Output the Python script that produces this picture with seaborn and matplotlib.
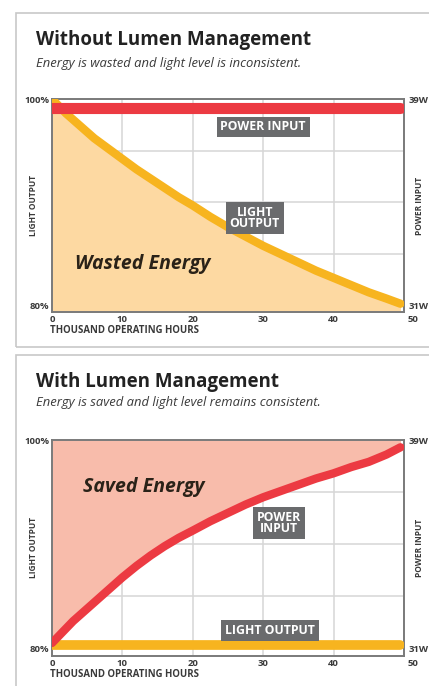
import numpy as np
import pandas as pd
import seaborn as sns
import matplotlib.pyplot as plt
from matplotlib.patches import Rectangle

# data (thousand hours vs level in % of max)
hours = [0, 1, 2, 3, 4, 5, 6, 7, 8, 9, 10, 12, 14, 16, 18, 20, 22.5, 25, 27.5, 30,
         32.5, 35, 37.5, 40, 42.5, 45, 47.5, 49.5]
light_without = [100, 99.3, 98.6, 98.0, 97.4, 96.8, 96.2, 95.7, 95.2, 94.7, 94.2, 93.2, 92.3,
                 91.4, 90.5, 89.7, 88.6, 87.6, 86.7, 85.8, 85.0, 84.2, 83.4, 82.7, 82.0, 81.3,
                 80.7, 80.2]
power_without = [99.1] * len(hours)
power_with = [80.5, 81.2, 81.9, 82.6, 83.2, 83.8, 84.4, 85.0, 85.6, 86.2, 86.8, 87.9, 88.9,
              89.8, 90.6, 91.3, 92.2, 93.0, 93.8, 94.5, 95.1, 95.7, 96.3, 96.8, 97.4, 97.9,
              98.6, 99.3]
light_with = [80.3] * len(hours)

x_ticks = [0, 10, 20, 30, 40]
y_grid = [80, 85, 90, 95, 100]

RED = "#ec3a42"
ORANGE = "#f7b41f"
ORANGE_FILL = "#fdd9a2"
PINK_FILL = "#f8bcab"
BOX_GRAY = "#6a6b6d"
TXT = "#3a3a3a"

sns.set_style("white")
plt.rcParams["font.family"] = ["Open Sans", "DejaVu Sans"]

fig = plt.figure(figsize=(4.29, 6.86), dpi=100)

# panel frames
fig.patches.append(Rectangle((16 / 429, 1 - 347 / 686), 0.99, 334 / 686, transform=fig.transFigure,
                             fill=False, edgecolor="#c8c8c8", lw=1.2))
fig.patches.append(Rectangle((16 / 429, -0.05), 0.99, 1 - 355 / 686 + 0.05, transform=fig.transFigure,
                             fill=False, edgecolor="#c8c8c8", lw=1.2))

ax1 = fig.add_axes([52 / 429, 1 - 312 / 686, 352 / 429, 213 / 686])
ax2 = fig.add_axes([52 / 429, 1 - 656 / 686, 352 / 429, 216 / 686])

df1 = pd.DataFrame({"hours": hours, "light": light_without, "power": power_without})
df2 = pd.DataFrame({"hours": hours, "light": light_with, "power": power_with})


def style_axes(ax, ybottom):
    ax.set_xlim(0, 50)
    ax.set_ylim(ybottom, 100)
    ax.set_xticks(x_ticks + [50])
    ax.set_xticklabels([str(t) for t in x_ticks] + [""])
    ax.set_yticks(y_grid)
    ax.set_yticklabels(["80%", "", "", "", "100%"])
    ax.grid(True, color="#d6d6d6", lw=1.1)
    ax.set_axisbelow(True)
    for s in ax.spines.values():
        s.set_color("#7a7a7a")
        s.set_linewidth(1.4)
    ax.tick_params(length=0, labelsize=6.8, colors=TXT, pad=2)
    for lab in ax.get_xticklabels() + ax.get_yticklabels():
        lab.set_fontweight("bold")
    ax.set_xlabel("")
    ax.set_ylabel("")
    ax.text(-0.005, -0.085, "THOUSAND OPERATING HOURS", transform=ax.transAxes,
            fontsize=6.9, fontweight="bold", color=TXT, ha="left", va="center")
    ax.text(-0.04, 0.5, "LIGHT OUTPUT", transform=ax.transAxes, rotation=90,
            fontsize=6, fontweight="bold", color=TXT, ha="right", va="center")
    ax.text(1.03, 0.5, "POWER INPUT", transform=ax.transAxes, rotation=90,
            fontsize=6, fontweight="bold", color=TXT, ha="left", va="center")
    tw = ax.twinx()
    tw.set_ylim(ax.get_ylim())
    tw.set_yticks([80, 100])
    tw.set_yticklabels(["31W", "39W"])
    tw.tick_params(length=0, labelsize=6.8, colors=TXT, pad=3)
    for lab in tw.get_yticklabels():
        lab.set_fontweight("bold")
    for s in tw.spines.values():
        s.set_visible(False)
    ax.text(1.01, -0.012, "50", transform=ax.transAxes, fontsize=6.8,
            fontweight="bold", color=TXT, ha="left", va="top")


def gray_box(ax, x, y, text):
    ax.text(x, y, text, ha="center", va="center", color="white", fontsize=8.8,
            fontweight="bold", linespacing=0.8, zorder=6,
            bbox=dict(boxstyle="square,pad=0.32", fc=BOX_GRAY, ec="none"))


# top panel: without lumen management
ax1.fill_between(df1["hours"], 79.4, df1["light"], color=ORANGE_FILL, lw=0, zorder=1)
sns.lineplot(data=df1, x="hours", y="light", ax=ax1, color=ORANGE, lw=6, zorder=3)
sns.lineplot(data=df1, x="hours", y="power", ax=ax1, color=RED, lw=8, zorder=4)
style_axes(ax1, 79.4)
gray_box(ax1, 30, 97.3, "POWER INPUT")
gray_box(ax1, 28.8, 88.5, "LIGHT\nOUTPUT")
ax1.text(3.2, 84.0, "Wasted Energy", fontsize=14, fontweight="bold", style="italic",
         color="#2a2218", ha="left", va="center", zorder=5)

# bottom panel: with lumen management
ax2.fill_between(df2["hours"], df2["power"], 100, color=PINK_FILL, lw=0, zorder=1)
sns.lineplot(data=df2, x="hours", y="light", ax=ax2, color=ORANGE, lw=7, zorder=3)
sns.lineplot(data=df2, x="hours", y="power", ax=ax2, color=RED, lw=6, zorder=4)
style_axes(ax2, 79.25)
gray_box(ax2, 32.2, 92.0, "POWER\nINPUT")
gray_box(ax2, 31.0, 81.7, "LIGHT OUTPUT")
ax2.text(4.4, 95.5, "Saved Energy", fontsize=14, fontweight="bold", style="italic",
         color="#2a2218", ha="left", va="center", zorder=5)

# titles
fig.text(36 / 429, 1 - 40 / 686, "Without Lumen Management", fontsize=13.5, fontweight="bold",
         color="#222222", ha="left", va="center")
fig.text(36 / 429, 1 - 63 / 686, "Energy is wasted and light level is inconsistent.",
         fontsize=9.4, style="italic", color=TXT, ha="left", va="center")
fig.text(36 / 429, 1 - 382 / 686, "With Lumen Management", fontsize=13.5, fontweight="bold",
         color="#222222", ha="left", va="center")
fig.text(36 / 429, 1 - 403 / 686, "Energy is saved and light level remains consistent.",
         fontsize=9.4, style="italic", color=TXT, ha="left", va="center")

fig.savefig("out.png", dpi=100)
